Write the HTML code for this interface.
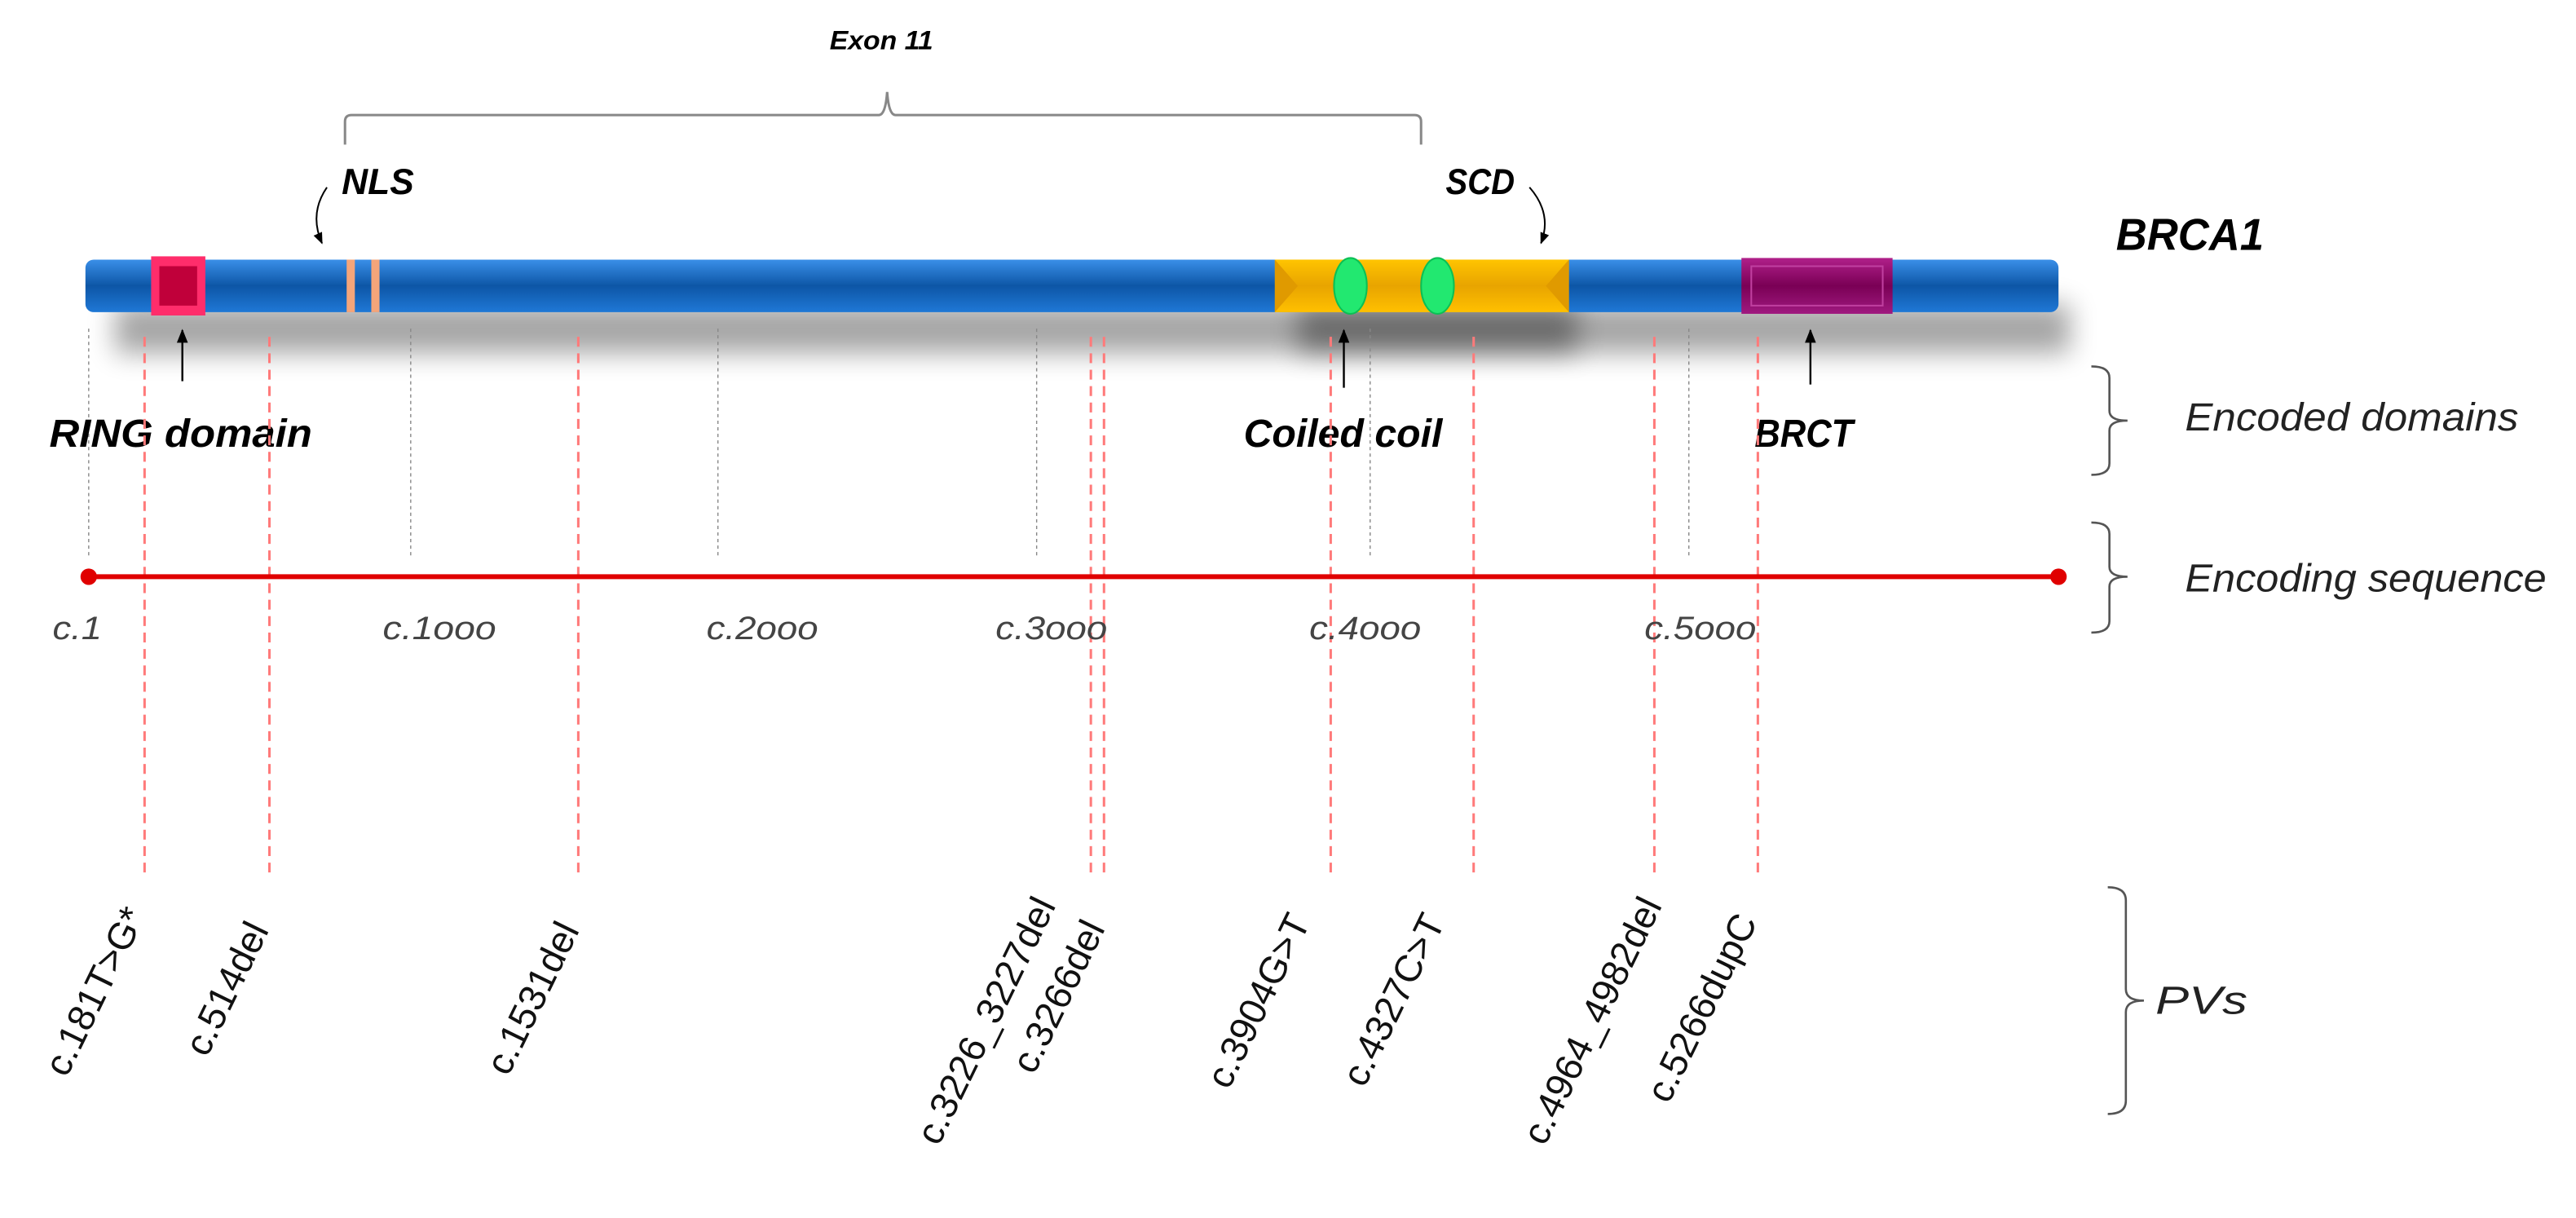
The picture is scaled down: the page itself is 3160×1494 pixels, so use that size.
<!DOCTYPE html>
<html><head><meta charset="utf-8"><style>
html,body{margin:0;padding:0;background:#fff;}
svg{display:block;}
text{font-family:"Liberation Sans",sans-serif;}
</style></head><body>
<svg width="3160" height="1494" viewBox="0 0 1568 741.3" xmlns="http://www.w3.org/2000/svg">
<defs>
<linearGradient id="blue" x1="0" y1="0" x2="0" y2="1">
<stop offset="0" stop-color="#3a8fe8"/><stop offset="0.5" stop-color="#0d56a6"/><stop offset="1" stop-color="#1f78d6"/></linearGradient>
<linearGradient id="yel" x1="0" y1="0" x2="0" y2="1">
<stop offset="0" stop-color="#ffc400"/><stop offset="0.5" stop-color="#e8a400"/><stop offset="1" stop-color="#ffc000"/></linearGradient>
<linearGradient id="pur" x1="0" y1="0" x2="0" y2="1">
<stop offset="0" stop-color="#b0208a"/><stop offset="0.5" stop-color="#7a0055"/><stop offset="1" stop-color="#a01a80"/></linearGradient>
<filter id="blur" x="-10%" y="-100%" width="120%" height="300%"><feGaussianBlur stdDeviation="8"/></filter>
<marker id="ah" viewBox="0 0 10 10" refX="9" refY="5" markerWidth="7" markerHeight="7" orient="auto"><path d="M0,1 L10,5 L0,9 z" fill="#000"/></marker>
</defs>

<text x="505" y="30" font-size="16" font-weight="bold" font-style="italic" textLength="63" lengthAdjust="spacingAndGlyphs">Exon 11</text>
<path d="M210,88 L210,74 Q210,70 214,70 L535,70 Q539,70 540,56 Q541,70 545,70 L861,70 Q865,70 865,74 L865,88" fill="none" stroke="#888" stroke-width="1.5"/>

<text x="208" y="118" font-size="22" font-weight="bold" font-style="italic" textLength="44" lengthAdjust="spacingAndGlyphs">NLS</text>
<path d="M199,114 Q188,130 196,148" fill="none" stroke="#000" stroke-width="1" marker-end="url(#ah)"/>
<text x="880" y="118" font-size="22" font-weight="bold" font-style="italic" textLength="42" lengthAdjust="spacingAndGlyphs">SCD</text>
<path d="M931,114 Q945,130 938,148" fill="none" stroke="#000" stroke-width="1" marker-end="url(#ah)"/>
<text x="1288" y="152" font-size="27" font-weight="bold" font-style="italic" textLength="90" lengthAdjust="spacingAndGlyphs">BRCA1</text>

<rect x="70" y="185" width="1190" height="30" fill="#000" opacity="0.35" filter="url(#blur)"/>
<rect x="790" y="185" width="170" height="30" fill="#000" opacity="0.35" filter="url(#blur)"/>
<g stroke="#888" stroke-width="0.7" stroke-dasharray="2,2">
<line x1="54" y1="200" x2="54" y2="340"/><line x1="250" y1="200" x2="250" y2="340"/>
<line x1="437" y1="200" x2="437" y2="340"/><line x1="631" y1="200" x2="631" y2="340"/>
<line x1="834" y1="200" x2="834" y2="340"/><line x1="1028" y1="200" x2="1028" y2="340"/>
</g>
<rect x="52" y="158" width="1201" height="32" rx="5" fill="url(#blue)"/>
<rect x="92" y="156" width="33" height="36" fill="#ff2d6b"/>
<rect x="97" y="162" width="23" height="24" fill="#c0003a"/>
<rect x="211" y="158" width="5" height="32" fill="#f4a57a"/>
<rect x="226" y="158" width="5" height="32" fill="#f4a57a"/>
<rect x="776" y="158" width="179" height="32" fill="url(#yel)"/>
<path d="M776,158 L790,174 L776,190 Z M955,158 L941,174 L955,190 Z" fill="#e09a00"/>
<ellipse cx="822" cy="174" rx="10" ry="17" fill="#22e870" stroke="#0bbf55"/>
<ellipse cx="875" cy="174" rx="10" ry="17" fill="#22e870" stroke="#0bbf55"/>
<rect x="1060" y="157" width="92" height="34" fill="url(#pur)"/>
<rect x="1066" y="162" width="80" height="24" fill="none" stroke="#c040a0" stroke-width="1"/>

<g stroke="#000" stroke-width="1.2">
<line x1="111" y1="232" x2="111" y2="201" marker-end="url(#ah)"/>
<line x1="818" y1="236" x2="818" y2="201" marker-end="url(#ah)"/>
<line x1="1102" y1="234" x2="1102" y2="201" marker-end="url(#ah)"/>
</g>
<g font-size="24" font-weight="bold" font-style="italic">
<text x="30" y="272" textLength="160" lengthAdjust="spacingAndGlyphs">RING domain</text>
<text x="757" y="272" textLength="121" lengthAdjust="spacingAndGlyphs">Coiled coil</text>
<text x="1068" y="272" textLength="60" lengthAdjust="spacingAndGlyphs">BRCT</text>
</g>

<g stroke="#ff7a7a" stroke-width="1.5" stroke-dasharray="6,4">
<line x1="88" y1="205" x2="88" y2="532"/><line x1="164" y1="205" x2="164" y2="532"/>
<line x1="352" y1="205" x2="352" y2="532"/><line x1="664" y1="205" x2="664" y2="532"/>
<line x1="672" y1="205" x2="672" y2="532"/><line x1="810" y1="205" x2="810" y2="532"/>
<line x1="897" y1="205" x2="897" y2="532"/><line x1="1007" y1="205" x2="1007" y2="532"/>
<line x1="1070" y1="205" x2="1070" y2="532"/>
</g>

<line x1="54" y1="351" x2="1253" y2="351" stroke="#e00000" stroke-width="3"/>
<circle cx="54" cy="351" r="5" fill="#e00000"/><circle cx="1253" cy="351" r="5" fill="#e00000"/>
<g font-size="20" font-style="italic" fill="#444">
<text x="32" y="389" textLength="30" lengthAdjust="spacingAndGlyphs">c.1</text>
<text x="233" y="389" textLength="69" lengthAdjust="spacingAndGlyphs">c.1ooo</text>
<text x="430" y="389" textLength="68" lengthAdjust="spacingAndGlyphs">c.2ooo</text>
<text x="606" y="389" textLength="68" lengthAdjust="spacingAndGlyphs">c.3ooo</text>
<text x="797" y="389" textLength="68" lengthAdjust="spacingAndGlyphs">c.4ooo</text>
<text x="1001" y="389" textLength="68" lengthAdjust="spacingAndGlyphs">c.5ooo</text>
</g>

<g fill="none" stroke="#555" stroke-width="1.3">
<path d="M1273,223 Q1284,223 1284,230 L1284,250 Q1284,256 1295,256 Q1284,256 1284,262 L1284,282 Q1284,289 1273,289"/>
<path d="M1273,318 Q1284,318 1284,325 L1284,345 Q1284,351 1295,351 Q1284,351 1284,357 L1284,378 Q1284,385 1273,385"/>
<path d="M1283,540 Q1294,540 1294,548 L1294,602 Q1294,609 1305,609 Q1294,609 1294,616 L1294,670 Q1294,678 1283,678"/>
</g>
<g font-size="24" font-style="italic" fill="#222">
<text x="1330" y="262" textLength="203" lengthAdjust="spacingAndGlyphs">Encoded domains</text>
<text x="1330" y="360" textLength="220" lengthAdjust="spacingAndGlyphs">Encoding sequence</text>
<text x="1312" y="617" textLength="56" lengthAdjust="spacingAndGlyphs">PVs</text>
</g>

<g font-size="23" fill="#111" text-anchor="end">
<text transform="translate(89,557) rotate(-64)">c.181T&gt;G*</text>
<text transform="translate(164,566) rotate(-64)">c.514del</text>
<text transform="translate(353,566) rotate(-64)">c.1531del</text>
<text transform="translate(643,551) rotate(-64)">c.3226_3227del</text>
<text transform="translate(673,565) rotate(-64)">c.3266del</text>
<text transform="translate(798,561) rotate(-64)">c.3904G&gt;T</text>
<text transform="translate(880,561) rotate(-64)">c.4327C&gt;T</text>
<text transform="translate(1012,551) rotate(-64)">c.4964_4982del</text>
<text transform="translate(1070,561) rotate(-64)">c.5266dupC</text>
</g>
</svg>
</body></html>
